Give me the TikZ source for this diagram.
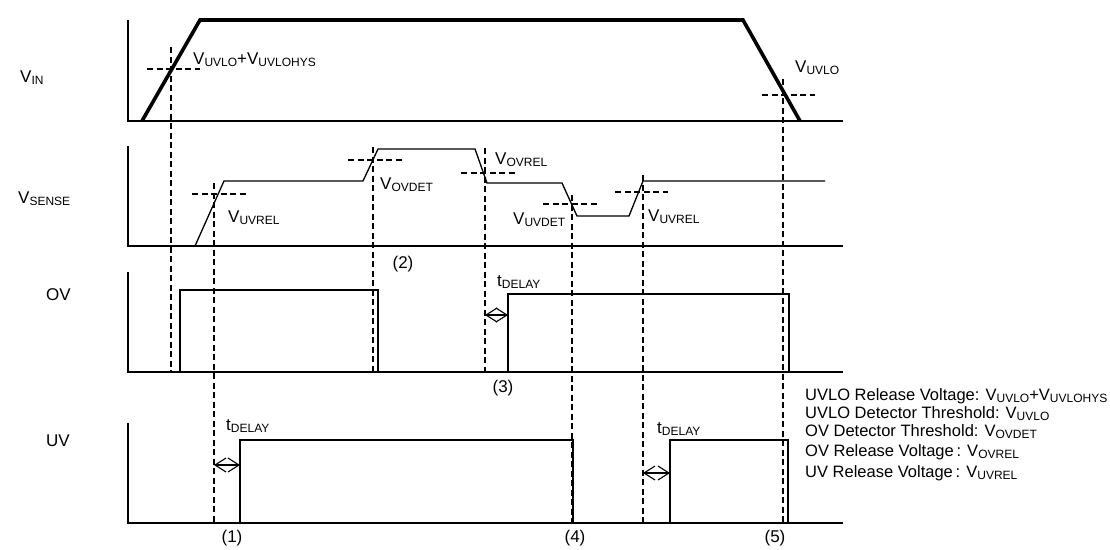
\documentclass[tikz,border=0pt]{standalone}
\usepackage{fontspec}
\setmainfont{Liberation Sans}
\usetikzlibrary{arrows.meta}

\newcommand\lo[1]{\raisebox{-0.3ex}{\fontsize{12}{12}\selectfont #1}}
\tikzset{
  axis/.style={line width=1.4pt},
  vin/.style={line width=3.6pt, line join=miter},
  wave/.style={line width=1.3pt, line join=miter},
  guide/.style={line width=1.1pt, dash pattern=on 6pt off 3.5pt},
  delay/.style={line width=1.1pt, {Straight Barb[length=11pt,width=14pt]}-{Straight Barb[length=11pt,width=14pt]}},
  lbl/.style={anchor=base west, inner sep=0pt, font=\fontsize{17}{17}\selectfont},
  leg/.style={anchor=base west, inner sep=0pt, font=\fontsize{16.5}{16.5}\selectfont},
  num/.style={inner sep=0pt, font=\fontsize{17}{17}\selectfont},
}

\begin{document}
\begin{tikzpicture}[x=1pt,y=-1pt]
  \useasboundingbox (0,0) rectangle (1110,549);

  % V_IN
  \node[lbl] (vinlbl) at (20,82) {V\lo{IN}};
  \draw[axis] (128,20) -- (128,121) -- (843,121);
  \draw[vin] (142,121) -- (200,20) -- (743,20) -- (800,121);
  \draw[guide] (147,69) -- (200,69);
  \draw[guide] (762,95) -- (815,95);
  \node[lbl] (uvlorel) at (193,64) {V\lo{UVLO}+V\lo{UVLOHYS}};
  \node[lbl] (uvlodet) at (795,72) {V\lo{UVLO}};

  % V_SENSE
  \node[lbl] (senselbl) at (18,203) {V\lo{SENSE}};
  \draw[axis] (128,146) -- (128,246) -- (843,246);
  \draw[wave] (195,246) -- (224,181) -- (363,181) -- (378,149) -- (475,149)
    -- (487,183) -- (562,183) -- (577,216) -- (629,216) -- (643,181) -- (825,181);
  \draw[guide] (192,194) -- (246,194);
  \draw[guide] (348,160) -- (402,160);
  \draw[guide] (461,173) -- (515,173);
  \draw[guide] (543,204) -- (597,204);
  \draw[guide] (615,192) -- (668,192);
  \node[lbl] (uvrel1) at (228,222) {V\lo{UVREL}};
  \node[lbl] (ovdet) at (380,189) {V\lo{OVDET}};
  \node[lbl] (ovrel) at (495,164) {V\lo{OVREL}};
  \node[lbl] (uvdet) at (513,224) {V\lo{UVDET}};
  \node[lbl] (uvrel2) at (648,221) {V\lo{UVREL}};
  \node[num] (n2) at (403,264) {(2)};

  % OV
  \node[lbl] (ovlbl) at (46,300) {OV};
  \draw[axis] (128,272) -- (128,372) -- (843,372);
  \draw[wave] (180,372) -- (180,290) -- (378,290) -- (378,372);
  \draw[wave] (508,372) -- (508,294) -- (789,294) -- (789,372);
  \draw[delay] (485,315) -- (508,315);
  \node[lbl] (tdel1) at (497,286) {t\lo{DELAY}};
  \node[num] (n3) at (503,388) {(3)};

  % UV
  \node[lbl] (uvlbl) at (46,446) {UV};
  \draw[axis] (128,423) -- (128,523) -- (843,523);
  \draw[wave] (240,523) -- (240,440) -- (573,440) -- (573,523);
  \draw[wave] (670,523) -- (670,440) -- (788,440) -- (788,523);
  \draw[delay] (214,465) -- (240,465);
  \draw[delay] (643,473) -- (670,473);
  \node[lbl] (tdel2) at (226,430) {t\lo{DELAY}};
  \node[lbl] (tdel3) at (657,433) {t\lo{DELAY}};
  \node[num] (n1) at (232,538) {(1)};
  \node[num] (n4) at (575,538) {(4)};
  \node[num] (n5) at (775,538) {(5)};

  % vertical guides through all panels
  \draw[guide] (171,47) -- (171,372);
  \draw[guide] (214,183) -- (214,523);
  \draw[guide] (373,147) -- (373,372);
  \draw[guide] (485,148) -- (485,372);
  \draw[guide] (572,195) -- (572,523);
  \draw[guide] (643,175) -- (643,523);
  \draw[guide] (783,79) -- (783,523);

  % legend
  \node[leg] (leg1) at (805,400) {UVLO Release Voltage: V\lo{UVLO}+V\lo{UVLOHYS}};
  \node[leg] (leg2) at (805,418) {UVLO Detector Threshold: V\lo{UVLO}};
  \node[leg] (leg3) at (805,436) {OV Detector Threshold: V\lo{OVDET}};
  \node[leg] (leg4) at (805,456) {OV Release Voltage\,: V\lo{OVREL}};
  \node[leg] (leg5) at (805,477) {UV Release Voltage\,: V\lo{UVREL}};
\end{tikzpicture}
\end{document}
